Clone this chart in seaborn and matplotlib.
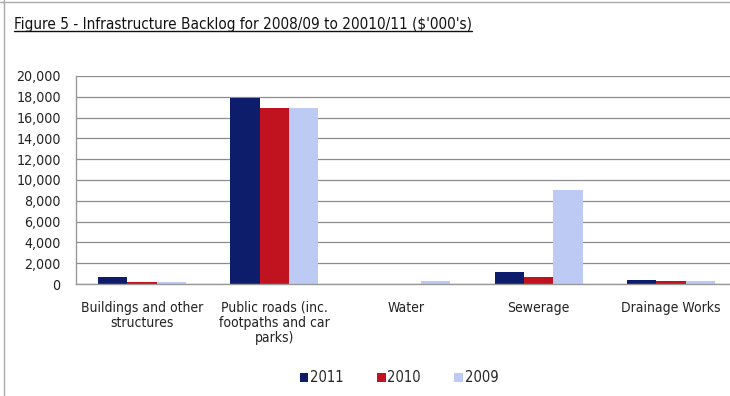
import matplotlib
matplotlib.use("Agg")
import matplotlib.pyplot as plt
import seaborn as sns
import pandas as pd
import numpy as np
from matplotlib.lines import Line2D
from matplotlib.patches import Rectangle
from matplotlib import font_manager as fm

categories = ["Buildings and other\nstructures", "Public roads (inc.\nfootpaths and car\nparks)",
              "Water", "Sewerage", "Drainage Works"]
years = ["2011", "2010", "2009"]
v2011 = [700, 17850, 0, 1120, 410]
v2010 = [160, 16970, 0, 670, 320]
v2009 = [150, 16970, 320, 9000, 290]
colors = ["#0E1D6B", "#C0121F", "#BCCAF4"]
yticks = list(range(0, 20001, 2000))

df = pd.DataFrame({
    "cat": categories * 3,
    "year": sum([[y] * 5 for y in years], []),
    "val": v2011 + v2010 + v2009,
})

sns.set_theme(style="white")
names = {f.name for f in fm.fontManager.ttflist}
cond = [n for n in ["Liberation Sans Narrow", "Arial Narrow", "DejaVu Sans Condensed"] if n in names]
fam = cond + ["DejaVu Sans"]
plt.rcParams["font.family"] = fam
plt.rcParams["font.stretch"] = "condensed"

fig = plt.figure(figsize=(7.3, 3.96), dpi=100)
ax = fig.add_axes([76/730, (396-284)/396, (737-76)/730, (284-76)/396])

sns.barplot(data=df, x="cat", y="val", hue="year", hue_order=years,
            palette=colors, width=0.665, ax=ax, saturation=1, legend=False,
            edgecolor="none", linewidth=0)

ax.set_ylim(0, 20000)
ax.set_xlim(-0.5, 4.5)
ax.set_yticks(yticks)
ax.set_yticklabels([f"{t:,}" for t in yticks], fontsize=10.2, color="#222222")
ax.set_xticks(range(5))
ax.set_xticklabels(categories, fontsize=10, color="#222222", linespacing=1.1)
ax.set_xticks(np.arange(-0.5, 5.0, 1.0), minor=True)
ax.tick_params(axis="x", which="major", length=0, pad=12)
ax.tick_params(axis="x", which="minor", length=6, color="#999999", width=1, direction="out")
ax.tick_params(axis="y", length=5, color="#999999", width=1, direction="out", pad=6)
ax.yaxis.grid(True, color="#8C8C8C", linewidth=0.9)
ax.set_axisbelow(True)
for s in ["top", "right"]:
    ax.spines[s].set_visible(False)
for s in ["left", "bottom"]:
    ax.spines[s].set_color("#999999")
    ax.spines[s].set_linewidth(1)
ax.set_xlabel("")
ax.set_ylabel("")

handles = [Rectangle((0, 0), 1, 1, facecolor=c, edgecolor="none") for c in colors]
fig.legend(handles, years, loc="center", bbox_to_anchor=(399/730, 1 - 378/396),
           ncol=3, frameon=False, fontsize=10.5, handlelength=0.6, handleheight=0.6,
           handletextpad=0.1, columnspacing=2.3)

t = fig.text(14/730, 1 - 25/396, "Figure 5 - Infrastructure Backlog for 2008/09 to 20010/11 ($'000's)",
             fontsize=11, color="#111111", va="center", ha="left")
fig.canvas.draw()
bb = t.get_window_extent().transformed(fig.transFigure.inverted())
fig.add_artist(Line2D([bb.x0, bb.x1], [bb.y0 + 0.004, bb.y0 + 0.004], color="#111111",
                      linewidth=1, transform=fig.transFigure))

# outer frame lines
fig.add_artist(Line2D([4/730, 4/730], [0, 1], color="#AAAAAA", linewidth=1, transform=fig.transFigure))
fig.add_artist(Line2D([0, 1], [1 - 2/396, 1 - 2/396], color="#AAAAAA", linewidth=1, transform=fig.transFigure))

fig.savefig("out.png", dpi=100)
